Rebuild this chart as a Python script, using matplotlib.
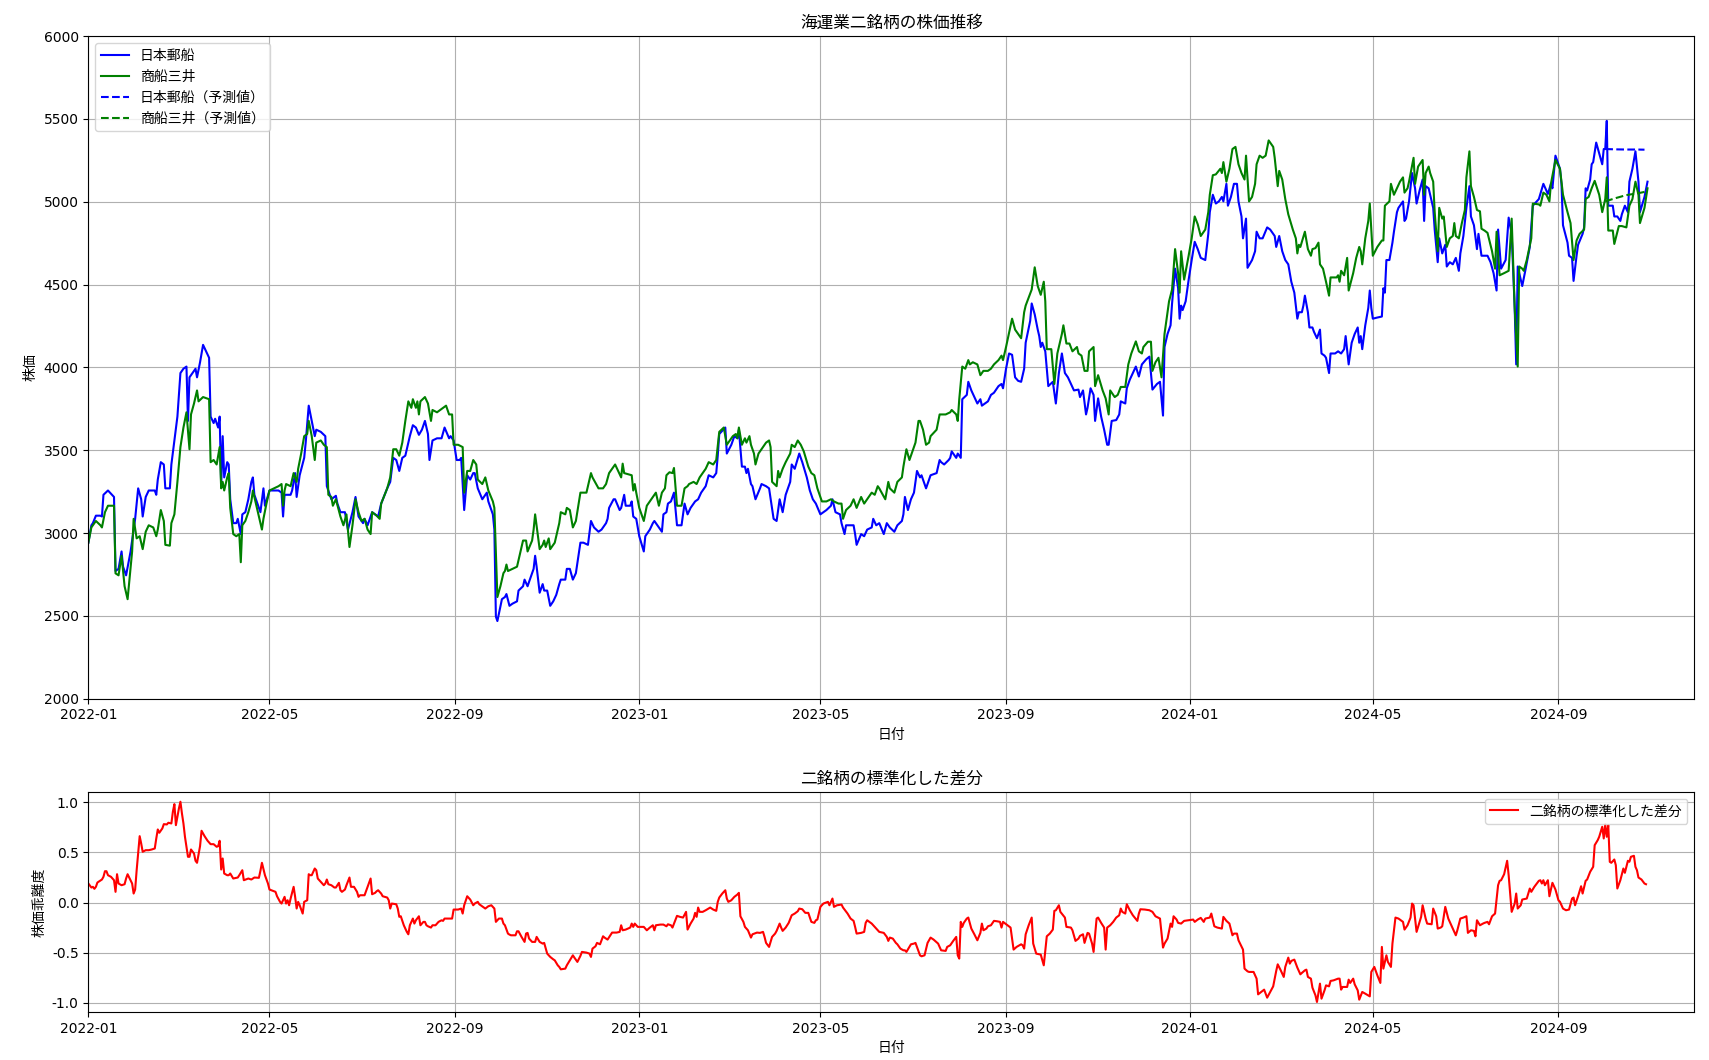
import numpy as np
import matplotlib
matplotlib.use("Agg")
import matplotlib.pyplot as plt
import matplotlib.dates as mdates

plt.rcParams['font.family'] = ['DejaVu Sans', 'Noto Sans CJK JP']
plt.rcParams['axes.unicode_minus'] = False

BASE_DATE = '2022-01-01'

# ---- 日本郵船 (days since 2022-01-01, price) ----
nyk_days = [0,2,3,5,8,9,10,13,17,18,20,22,23,25,28,31,33,35,36,38,40,44,45,46,48,50,51,54,55,57,59,61,63,65,66,67,71,72,74,76,80,81,83,84,86,87,88,89,90,92,93,94,96,98,99,101,102,104,106,108,109,110,114,116,117,120,126,128,129,130,134,135,137,138,140,143,144,146,148,150,151,154,157,158,161,164,165,167,170,172,175,177,179,182,183,185,188,192,194,198,200,202,204,206,208,210,213,215,217,219,221,223,225,226,228,231,234,236,239,240,242,244,246,247,249,251,253,255,256,258,
            261,264,265,268,269,270,271,274,276,277,279,281,284,285,288,289,291,292,295,296,297,299,301,302,304,306,308,310,312,313,316,317,319,321,323,326,328,331,333,335,338,340,341,343,344,345,348,349,352,353,355,356,359,360,361,363,365,368,369,372,374,375,377,380,381,383,384,386,388,390,393,395,397,399,402,404,406,409,411,414,416,417,418,422,423,426,428,430,431,433,435,436,437,439,440,442,445,446,449,451,454,456,458,460,462,465,466,468,471,473,476,478,480,482,485,489,492,493,495,498,499,501,502,507,508,509,512,514,516,519,520,522,
            524,527,529,531,534,536,539,540,541,543,545,547,549,551,552,555,556,558,562,564,565,567,570,571,572,575,576,578,579,582,583,585,587,589,591,592,594,596,598,600,603,605,606,608,610,612,614,616,618,620,621,624,625,627,629,630,631,632,634,636,639,641,643,645,647,649,651,653,656,657,659,661,662,664,666,667,669,671,673,675,676,678,681,683,684,687,688,690,692,694,696,698,701,703,705,708,710,712,713,715,717,718,720,722,723,724,725,727,729,731,733,735,737,740,742,743,745,747,749,751,752,754,755,757,759,761,762,764,765,767,768,771,773,774,776,778,781,783,786,787,
            789,791,793,795,797,799,801,802,804,805,806,808,809,811,812,814,816,817,819,820,822,823,826,828,830,832,833,835,837,839,841,842,843,844,846,848,849,850,851,854,857,858,859,860,862,864,865,867,868,871,872,873,875,877,879,880,882,884,885,886,888,889,891,892,894,895,897,899,900,902,904,906,908,909,911,913,915,916,918,920,921,923,927,929,931,933,934,936,939,941,943,945,946,947,950,952,955,957,961,964,966,967,969,970,972,975,976,977,980,981,983,984,986,987,990,991,992,993,995,996,997,999,1001,1003,1004,1005,1006,1007,1010,1011,1013,1015,1016,1018,1020,1021,1023,1025,1027,1028,1031,1033]
nyk_price = [2942,3047,3060,3105,3105,3100,3231,3257,3218,2771,2784,2889,2797,2745,2890,3086,3270,3204,3100,3218,3257,3257,3231,3323,3428,3414,3270,3270,3414,3559,3703,3966,3992,4005,3677,3940,3992,3940,4031,4136,4058,3703,3664,3690,3637,3703,3283,3585,3336,3428,3414,3204,3060,3060,3086,2994,3113,3126,3204,3309,3336,3231,3126,3270,3165,3257,3257,3244,3100,3231,3231,3257,3362,3218,3349,3454,3546,3769,3677,3585,3624,3611,3585,3283,3204,3225,3178,3126,3126,3021,3126,3218,3100,3060,3086,3047,3126,3100,3178,3270,3309,3454,3441,3375,3454,3467,3585,3651,3637,3593,3624,3677,3598,3441,3559,3572,3572,3637,3572,3585,3559,3441,3441,3454,3139,3349,3323,3362,3362,3270,
             3204,3244,3191,3113,3021,2496,2469,2601,2614,2632,2561,2574,2588,2653,2679,2719,2679,2706,2784,2863,2797,2640,2692,2653,2653,2561,2588,2627,2692,2719,2719,2784,2784,2719,2758,2942,2942,2929,3073,3034,3008,3021,3034,3060,3086,3152,3204,3204,3139,3152,3231,3165,3165,3191,3100,3086,2981,2889,2981,3021,3060,3073,3047,3008,3113,3126,3178,3191,3244,3047,3047,3178,3113,3152,3191,3204,3244,3283,3349,3336,3362,3467,3598,3637,3480,3533,3585,3572,3624,3401,3401,3362,3388,3296,3283,3204,3270,3296,3283,3270,3086,3073,3204,3126,3231,3309,3414,3388,3480,3428,3336,3257,3204,3178,3113,3139,3165,3204,3126,3113,3060,2994,3047,3047,2994,2929,2994,2981,3021,3034,3086,3047,
             3060,2994,3060,3034,3008,3047,3073,3113,3218,3139,3204,3244,3375,3336,3349,3270,3296,3349,3362,3441,3428,3414,3441,3454,3493,3454,3480,3454,3808,3834,3913,3861,3821,3782,3808,3769,3782,3795,3834,3847,3887,3900,3874,3992,4084,4076,3940,3919,3913,3992,4149,4281,4386,4320,4228,4189,4123,4149,4097,3887,3913,3782,3966,4084,3966,3940,3900,3861,3866,3821,3861,3716,3756,3874,3834,3677,3813,3703,3624,3533,3533,3677,3682,3716,3795,3782,3874,3926,3966,4005,3945,4018,4050,4065,3866,3900,3913,3709,4123,4202,4254,4386,4596,4478,4294,4373,4346,4399,4530,4648,4758,4714,4661,4648,4806,4937,5042,4989,5002,5029,5002,5108,4976,5029,5108,5108,5002,4911,4779,4898,4601,4648,4701,4819,4779,4779,4845,4832,4793,4727,
             4793,4701,4648,4622,4517,4451,4294,4333,4333,4373,4433,4333,4241,4241,4215,4176,4228,4084,4071,4058,3966,4084,4084,4097,4084,4110,4189,4018,4149,4202,4241,4149,4189,4110,4254,4359,4464,4359,4294,4301,4307,4478,4451,4648,4648,4753,4819,4937,4963,5002,4884,4898,5002,5173,5081,4989,5068,5134,4884,5094,5081,5042,4963,4832,4635,4779,4688,4740,4609,4635,4622,4661,4583,4688,4793,4963,5094,4911,4858,4714,4806,4674,4674,4635,4569,4464,4832,4596,4648,4904,4806,4359,4018,4609,4491,4583,4727,4976,5016,5108,5068,5047,5108,5081,5278,5199,5108,4858,4753,4674,4661,4522,4674,4740,4806,4845,5081,5068,5134,5226,5239,5357,5291,5226,5318,5318,5488,4976,4976,4911,4911,4884,4924,4976,4937,5121,5199,5304,5121,4937,5029,5121]

# ---- 商船三井 (days since 2022-01-01, price) ----
mol_days = [0,2,5,8,9,11,13,17,18,20,22,24,26,29,30,32,34,36,38,40,43,45,46,48,50,51,54,55,57,59,61,63,65,67,68,70,72,73,76,80,81,83,85,87,88,89,90,92,93,94,96,98,100,101,102,104,106,108,109,111,113,115,116,118,120,123,126,128,129,130,131,134,136,138,139,141,143,145,146,148,150,151,154,156,158,159,161,162,164,167,169,171,173,175,177,179,181,183,185,187,188,191,193,194,198,200,202,204,206,208,210,212,214,215,217,218,219,220,223,225,227,228,231,235,237,239,241,242,245,248,249,251,253,255,257,258,
            261,263,265,268,269,271,273,275,276,277,278,281,284,286,288,290,291,294,295,296,299,301,302,303,305,306,309,311,312,313,316,317,319,321,323,326,330,333,334,338,341,343,345,346,349,351,353,354,355,360,361,362,363,365,368,370,372,374,376,378,380,382,383,385,387,388,390,393,395,397,398,401,403,405,407,409,411,414,416,418,421,423,427,429,430,431,433,435,436,438,439,441,442,444,447,449,451,452,453,456,457,458,460,462,465,466,468,470,472,474,477,479,481,483,486,489,492,494,497,499,500,502,505,507,509,512,514,516,519,521,523,
            524,528,530,531,534,536,539,540,542,544,546,548,550,551,553,555,557,558,562,564,566,568,571,572,575,576,577,579,581,583,584,586,589,591,593,596,598,600,603,605,606,608,612,614,616,618,620,621,625,627,629,631,633,634,635,638,640,642,645,646,648,650,652,655,656,658,660,662,663,666,667,669,672,674,676,677,680,682,684,687,689,691,694,696,698,699,702,704,705,707,709,711,713,715,716,718,720,722,723,724,726,729,731,733,735,737,740,742,743,745,747,750,751,752,754,756,758,760,762,764,766,767,769,771,773,774,776,778,780,782,785,786,788,
            789,791,793,795,798,800,801,802,803,806,808,810,811,813,815,816,818,820,822,823,827,828,829,830,832,833,834,835,838,840,842,843,844,846,848,849,851,854,857,858,859,862,863,865,867,869,871,872,874,875,878,879,881,884,885,886,888,889,891,892,894,895,897,898,900,902,904,905,906,908,910,912,913,915,916,918,920,922,923,925,927,930,932,933,935,938,941,943,945,947,948,950,951,953,956,957,961,962,964,966,968,969,972,975,977,980,982,984,986,988,991,992,994,996,998,1001,1003,1005,1006,1007,1010,1011,1014,1016,1019,1021,1023,1025,1027,1028,1031,1033]
mol_price = [2942,3034,3073,3047,3034,3126,3165,3165,2757,2745,2863,2679,2601,2889,3086,2968,2981,2903,3008,3047,3034,2981,3021,3139,3073,2929,2924,3060,3113,3309,3519,3637,3729,3506,3716,3782,3861,3795,3821,3808,3428,3441,3414,3519,3270,3309,3257,3336,3362,3152,2994,2981,2994,2824,3047,3073,3126,3191,3257,3178,3100,3021,3086,3178,3257,3270,3283,3296,3165,3257,3296,3283,3362,3309,3388,3480,3585,3598,3677,3585,3441,3546,3559,3533,3519,3231,3218,3165,3204,3100,3047,3113,2916,3047,3204,3126,3073,3086,3021,2994,3126,3105,3086,3178,3270,3336,3506,3506,3467,3546,3677,3795,3756,3808,3756,3795,3716,3795,3821,3782,3677,3743,3729,3756,3769,3716,3716,3533,3533,3519,3244,3375,3375,3441,3414,3323,
             3296,3336,3257,3191,3152,2614,2679,2758,2771,2810,2771,2784,2797,2876,2955,2955,2889,2955,3021,3113,2903,2929,2955,2916,2968,2903,2942,3021,3060,3126,3113,3152,3139,3034,3073,3244,3244,3362,3336,3270,3270,3296,3362,3375,3414,3375,3336,3419,3362,3349,3257,3296,3244,3152,3073,3165,3191,3218,3244,3165,3244,3270,3349,3367,3362,3393,3165,3165,3270,3283,3296,3309,3296,3336,3362,3388,3428,3414,3441,3611,3637,3533,3585,3598,3572,3637,3533,3572,3546,3585,3533,3480,3414,3480,3519,3546,3559,3519,3309,3283,3375,3336,3388,3428,3480,3533,3519,3559,3533,3493,3401,3362,3349,3270,3191,3191,3204,3191,3178,3178,3086,3139,3165,3204,3152,3218,3178,3204,3244,3231,3283,
             3270,3204,3309,3270,3244,3309,3336,3401,3506,3441,3493,3546,3677,3677,3624,3533,3546,3585,3624,3716,3716,3716,3729,3743,3716,3677,3808,4005,3992,4044,4018,4031,4018,3953,3979,3979,3992,4018,4044,4071,4044,4123,4294,4228,4202,4176,4333,4373,4470,4604,4491,4438,4517,4399,4110,4110,3900,4084,4202,4254,4144,4144,4097,4123,4084,4071,3979,3979,4097,4123,3887,3953,3861,3813,3716,3861,3821,3834,3882,3882,4018,4084,4157,4097,4084,4123,4155,4155,3979,4031,4058,3940,4202,4333,4399,4470,4714,4569,4451,4701,4530,4675,4779,4911,4864,4793,4832,4937,5042,5160,5165,5199,5173,5239,5121,5199,5318,5331,5226,5173,5134,5278,5002,5029,5108,5226,5278,5265,5278,5370,5331,5265,5094,
             5186,5134,5016,4924,4832,4779,4688,4740,4727,4819,4714,4674,4714,4720,4753,4622,4596,4517,4433,4543,4543,4556,4517,4583,4556,4609,4661,4464,4569,4661,4727,4701,4622,4779,4884,4989,4674,4727,4766,4766,4976,5002,5108,5042,5081,5121,5147,5055,5081,5121,5265,5108,5212,5252,5042,5173,5212,5173,5121,4937,4701,4963,4898,4911,4727,4779,4793,4871,4793,4779,4871,4950,5147,5304,5094,5029,4950,4942,4837,4826,4812,4701,4596,4819,4556,4569,4583,4898,4359,4005,4609,4596,4583,4648,4779,4989,4984,4976,5055,5042,5002,5108,5252,5199,5042,4937,4871,4648,4766,4806,4832,5016,5029,5081,5126,5042,4937,5016,5147,4826,4826,4745,4853,4853,4845,4976,5016,5121,5042,4871,4963,5081]

# ---- 予測値 ----
nyk_pred_days = [1005, 1012, 1019, 1026, 1031]
nyk_pred_price = [5318, 5316, 5315, 5315, 5314]
mol_pred_days = [1005, 1012, 1019, 1026, 1031]
mol_pred_price = [5002, 5022, 5040, 5050, 5059]

# ---- 標準化した差分 ----
spread_days = [0,2,3,4,5,6,9,10,11,12,13,15,17,18,19,20,22,24,25,26,29,30,31,32,34,35,36,38,40,42,44,45,46,47,49,50,52,53,55,56,57,58,60,61,62,63,64,66,67,68,70,71,72,74,75,77,79,81,83,85,86,87,88,89,90,92,93,94,96,99,100,102,103,106,108,110,113,114,115,117,119,120,124,125,127,128,130,131,132,133,134,136,137,138,139,140,142,143,145,146,147,148,150,151,152,154,156,157,158,159,161,163,164,166,167,168,170,171,173,174,176,178,179,180,183,185,187,188,189,190,191,192,194,195,198,199,200,201,204,205,206,207,209,210,211,212,213,215,216,217,219,220,222,223,224,225,227,228,230,232,234,235,236,241,242,245,247,248,249,251,253,255,256,258,259,262,263,265,267,269,270,272,274,275,276,278,279,
               280,283,284,285,287,289,290,291,292,294,296,297,299,301,302,304,306,308,309,311,312,313,316,317,319,321,322,324,326,327,330,332,333,334,336,337,339,341,342,344,347,350,352,353,354,356,359,360,361,362,364,366,368,370,372,374,375,376,379,381,383,384,386,387,390,392,394,396,397,399,401,402,403,404,405,407,409,412,414,416,417,418,420,422,423,424,426,428,430,431,432,434,435,437,439,440,443,445,447,448,449,451,453,455,456,458,459,460,462,464,466,468,470,471,473,475,477,479,481,482,483,485,487,490,491,493,494,496,499,500,503,505,507,508,509,512,514,515,516,519,521,523,524,527,529,530,531,533,535,536,538,540,541,542,544,545,
               547,548,551,552,554,556,558,560,563,565,568,569,571,573,575,576,577,578,579,580,582,583,585,587,589,591,592,593,595,596,598,600,602,604,605,606,609,611,613,615,618,619,620,621,623,625,626,628,631,633,635,637,639,640,641,643,644,647,648,651,652,654,656,657,659,660,662,663,665,666,668,669,671,673,674,675,677,679,681,683,684,685,687,688,690,692,695,696,697,700,703,705,707,710,712,713,715,717,718,719,721,722,724,726,729,732,733,735,737,739,740,743,744,746,748,751,752,754,756,757,758,759,761,762,765,766,768,769,772,774,775,777,779,781,783,785,787,788,790,792,793,795,796,797,799,
               801,803,804,806,807,808,810,811,813,814,816,817,819,820,822,823,825,828,829,830,831,834,835,836,838,839,841,842,844,846,849,850,852,854,856,857,858,860,861,863,864,866,868,871,872,874,876,877,878,880,882,883,884,886,887,890,891,893,894,896,897,899,901,903,906,907,909,911,913,914,916,918,919,920,922,924,925,927,928,930,932,934,935,936,938,940,941,943,945,946,947,949,950,953,955,956,958,961,962,963,964,965,967,968,970,972,974,975,977,979,981,983,984,985,987,989,990,992,993,995,997,998,1000,1001,1003,1004,1005,1006,1007,1008,1009,1011,1012,1013,1015,1017,1018,1020,1021,1022,1024,1025,1026,1027,1029,1031,1032]
spread_values = [0.19,0.15,0.157,0.137,0.157,0.2,0.23,0.257,0.313,0.313,0.273,0.257,0.223,0.107,0.283,0.19,0.173,0.183,0.24,0.283,0.19,0.09,0.13,0.323,0.663,0.59,0.507,0.523,0.523,0.53,0.54,0.64,0.73,0.697,0.74,0.783,0.78,0.797,0.79,0.907,0.983,0.773,0.94,1.007,0.89,0.79,0.657,0.457,0.457,0.53,0.49,0.417,0.397,0.563,0.717,0.663,0.617,0.583,0.583,0.557,0.563,0.617,0.33,0.44,0.29,0.273,0.273,0.29,0.24,0.25,0.273,0.323,0.223,0.24,0.23,0.25,0.247,0.317,0.397,0.273,0.19,0.13,0.107,0.063,0.007,-0.01,0.057,-0.01,0.023,-0.027,0.04,0.157,0.057,-0.06,0.007,-0.027,-0.11,0.007,0.023,0.283,0.273,0.273,0.34,0.323,0.24,0.207,0.173,0.19,0.23,0.183,0.173,0.15,0.15,0.197,0.123,0.107,0.13,0.173,0.25,0.157,0.157,0.107,0.057,0.073,0.073,0.157,0.24,0.083,0.09,0.097,0.113,0.123,0.09,0.063,0.05,0.023,-0.06,-0.01,-0.017,-0.06,-0.143,-0.137,-0.227,-0.26,-0.293,-0.317,-0.227,-0.16,-0.21,-0.177,-0.137,-0.227,-0.193,-0.193,-0.227,-0.237,-0.25,-0.227,-0.227,-0.193,-0.177,-0.183,-0.16,-0.16,-0.07,-0.07,-0.06,-0.11,-0.027,0.063,0.03,-0.027,-0.01,0.007,-0.017,-0.05,-0.06,-0.037,-0.027,-0.06,-0.193,-0.16,-0.16,-0.21,-0.227,-0.31,-0.32,
                 -0.327,-0.327,-0.287,-0.287,-0.343,-0.393,-0.31,-0.303,-0.36,-0.393,-0.393,-0.343,-0.393,-0.41,-0.403,-0.51,-0.543,-0.567,-0.577,-0.627,-0.643,-0.667,-0.66,-0.627,-0.577,-0.527,-0.55,-0.593,-0.533,-0.493,-0.5,-0.51,-0.543,-0.46,-0.437,-0.403,-0.417,-0.337,-0.35,-0.37,-0.3,-0.3,-0.293,-0.227,-0.277,-0.27,-0.25,-0.21,-0.243,-0.21,-0.243,-0.243,-0.243,-0.277,-0.25,-0.227,-0.277,-0.227,-0.22,-0.22,-0.237,-0.217,-0.227,-0.25,-0.133,-0.143,-0.15,-0.093,-0.27,-0.21,-0.16,-0.103,-0.143,-0.05,-0.093,-0.093,-0.077,-0.05,-0.07,-0.083,0.007,0.05,0.09,0.123,0.04,0.007,0.023,0.057,0.08,0.097,-0.137,-0.193,-0.243,-0.277,-0.35,-0.317,-0.3,-0.303,-0.293,-0.343,-0.403,-0.443,-0.343,-0.31,-0.283,-0.21,-0.25,-0.283,-0.25,-0.203,-0.127,-0.11,-0.087,-0.06,-0.067,-0.103,-0.103,-0.193,-0.203,-0.177,-0.17,-0.043,-0.01,0.007,-0.027,0.04,-0.043,-0.027,-0.02,-0.05,-0.11,-0.16,-0.183,-0.243,-0.31,-0.303,-0.293,-0.203,-0.177,-0.21,-0.243,-0.277,-0.293,-0.303,-0.343,-0.383,-0.35,-0.36,-0.403,-0.417,-0.46,-0.477,-0.477,-0.493,-0.443,-0.417,
                 -0.41,-0.403,-0.527,-0.537,-0.527,-0.403,-0.35,-0.37,-0.41,-0.477,-0.483,-0.443,-0.427,-0.383,-0.343,-0.527,-0.56,-0.193,-0.243,-0.203,-0.16,-0.15,-0.26,-0.317,-0.377,-0.303,-0.21,-0.277,-0.26,-0.237,-0.227,-0.183,-0.187,-0.193,-0.25,-0.193,-0.227,-0.25,-0.47,-0.443,-0.417,-0.427,-0.46,-0.317,-0.227,-0.15,-0.41,-0.51,-0.52,-0.627,-0.337,-0.31,-0.27,-0.083,-0.077,-0.027,-0.093,-0.15,-0.243,-0.25,-0.277,-0.383,-0.36,-0.333,-0.317,-0.403,-0.303,-0.31,-0.41,-0.493,-0.16,-0.15,-0.203,-0.25,-0.47,-0.25,-0.227,-0.193,-0.15,-0.127,-0.06,-0.093,-0.11,-0.017,-0.077,-0.127,-0.183,-0.11,-0.067,-0.07,-0.077,-0.093,-0.137,-0.16,-0.45,-0.41,-0.36,-0.21,-0.243,-0.137,-0.17,-0.203,-0.21,-0.183,-0.177,-0.17,-0.193,-0.17,-0.153,-0.193,-0.16,-0.15,-0.11,-0.237,-0.25,-0.26,-0.143,-0.183,-0.21,-0.27,-0.327,-0.31,-0.31,-0.377,-0.47,-0.66,-0.687,-0.693,-0.693,-0.76,-0.917,-0.893,-0.87,-0.95,-0.893,-0.837,-0.683,-0.617,-0.677,-0.743,-0.643,-0.55,-0.61,-0.583,-0.57,
                 -0.65,-0.717,-0.703,-0.677,-0.67,-0.743,-0.76,-0.85,-0.927,-0.993,-0.81,-0.96,-0.877,-0.827,-0.837,-0.783,-0.777,-0.76,-0.76,-0.87,-0.843,-0.843,-0.77,-0.803,-0.76,-0.817,-0.877,-0.97,-0.893,-0.91,-0.937,-0.693,-0.643,-0.727,-0.803,-0.443,-0.66,-0.527,-0.593,-0.643,-0.41,-0.15,-0.16,-0.193,-0.27,-0.227,-0.15,-0.01,-0.027,-0.293,-0.193,-0.143,-0.027,-0.16,-0.21,-0.217,-0.06,-0.137,-0.26,-0.25,-0.237,-0.043,-0.16,-0.227,-0.327,-0.277,-0.16,-0.15,-0.137,-0.303,-0.277,-0.283,-0.337,-0.177,-0.227,-0.21,-0.203,-0.193,-0.217,-0.137,-0.11,0.173,0.217,0.223,0.283,0.417,0.273,-0.093,-0.01,0.09,-0.06,-0.027,0.03,0.04,0.14,0.107,0.157,0.217,0.223,0.19,0.223,0.173,0.223,0.063,0.197,0.13,0.023,0.007,-0.06,-0.077,-0.07,0.04,0.05,-0.027,0.063,0.163,0.09,0.217,0.23,0.307,0.357,0.573,0.623,0.657,0.757,0.64,0.78,0.657,0.773,0.407,0.397,0.43,0.373,0.14,0.223,0.34,0.297,0.417,0.407,0.457,0.467,0.357,0.323,0.25,0.23,0.19,0.183]

xlim_start = '2022-01-01'
xlim_end = '2024-11-30'


def to_dates(days):
    return np.datetime64(BASE_DATE) + np.asarray(days).astype('timedelta64[D]')


fig = plt.figure(figsize=(17.09, 10.60), dpi=100)
ax1 = fig.add_axes([0.0517, 0.3408, 0.9397, 0.6252])
ax2 = fig.add_axes([0.0517, 0.0453, 0.9397, 0.2078])

ax1.plot(to_dates(nyk_days), nyk_price, color='blue', lw=1.5, label='日本郵船')
ax1.plot(to_dates(mol_days), mol_price, color='green', lw=1.5, label='商船三井')
ax1.plot(to_dates(nyk_pred_days), nyk_pred_price, color='blue', ls='--', lw=1.5, label='日本郵船（予測値）')
ax1.plot(to_dates(mol_pred_days), mol_pred_price, color='green', ls='--', lw=1.5, label='商船三井（予測値）')
ax1.set_ylim(2000, 6000)
ax1.set_title('海運業二銘柄の株価推移', fontsize=12)
ax1.set_xlabel('日付')
ax1.set_ylabel('株価')
ax1.legend(loc='upper left')
ax1.grid(True)

ax2.plot(to_dates(spread_days), spread_values, color='red', lw=1.5, label='二銘柄の標準化した差分')
ax2.set_title('二銘柄の標準化した差分', fontsize=12)
ax2.set_xlabel('日付')
ax2.set_ylabel('株価乖離度')
ax2.legend(loc='upper right')
ax2.grid(True)

for ax in (ax1, ax2):
    ax.set_xlim(np.datetime64(xlim_start), np.datetime64(xlim_end))
    ax.xaxis.set_major_locator(mdates.MonthLocator(bymonth=[1, 5, 9]))
    ax.xaxis.set_major_formatter(mdates.DateFormatter('%Y-%m'))

fig.savefig('out.png', dpi=100)
